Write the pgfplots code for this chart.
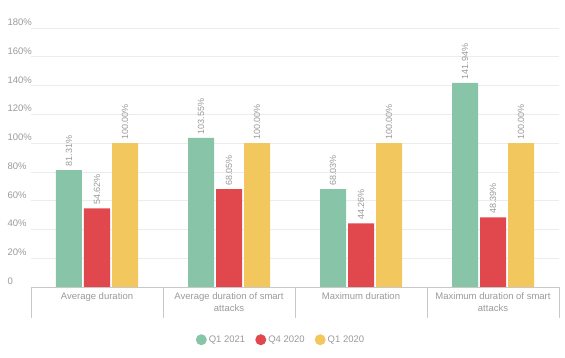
\documentclass[border=0pt]{standalone}
\usepackage{pgfplots}
\pgfplotsset{compat=1.18}
\usepackage{fontspec}
\setmainfont{Liberation Sans}
\definecolor{cgreen}{HTML}{88C4A7}
\definecolor{cred}{HTML}{E0484D}
\definecolor{cyellow}{HTML}{F2C75E}
\definecolor{ctext}{HTML}{9A9A9A}
\definecolor{cgrid}{HTML}{ECECEC}
\definecolor{caxis}{HTML}{C8C8C8}
\begin{document}
\begin{tikzpicture}[x=1pt,y=1pt]
\useasboundingbox (-31,-71) rectangle (534,287);
\begin{axis}[
  at={(0,0)}, anchor=south west,
  scale only axis, width=528pt, height=259pt,
  xmin=-0.5, xmax=3.5, ymin=0, ymax=180,
  ybar, bar width=26pt,
  axis x line*=bottom, axis y line*=left,
  x axis line style={caxis, line width=0.8pt},
  y axis line style={draw=none},
  ytick={0,20,...,180},
  yticklabels={0,20\%,40\%,60\%,80\%,100\%,120\%,140\%,160\%,180\%},
  ytick style={draw=none},
  ymajorgrids, grid style={cgrid, line width=0.6pt},
  yticklabel style={anchor=base west, xshift=-27pt, yshift=2.5pt, font=\fontsize{9.5}{11}\selectfont, text=ctext},
  /pgf/number format/assume math mode=true,
  xtick={-0.5,0.5,1.5,2.5,3.5},
  xticklabels={},
  major tick length=31pt,
  x tick style={draw=caxis, line width=0.6pt},
  xtick align=outside,
  extra x ticks={0,1,2,3},
  extra x tick labels={Average duration, {Average duration of smart\\attacks}, Maximum duration, {Maximum duration of smart\\attacks}},
  extra x tick style={major tick length=0pt, grid=none, tick style={draw=none},
    xticklabel style={align=center, anchor=north, yshift=-2pt, font=\fontsize{9.5}{12}\selectfont, text=ctext}},
  nodes near coords={\pgfmathprintnumber[fixed,precision=2,fixed zerofill]{\pgfplotspointmeta}\%},
  nodes near coords style={rotate=90, anchor=west, xshift=0pt, font=\fontsize{9}{10}\selectfont, text=ctext},
  point meta=y,
  legend style={at={(0.5,-71pt)}, anchor=south, yshift=10pt, xshift=-14pt, draw=none, fill=none, legend columns=3, font=\fontsize{9.5}{11}\selectfont, text=ctext, /tikz/every even column/.append style={column sep=8pt}},
  legend image code/.code={\fill[#1] (0.2cm,0cm) circle (5.5pt);},
  clip=false,
]
\addplot[fill=cgreen, draw=none, bar shift=-28pt] coordinates {(0,81.31) (1,103.55) (2,68.03) (3,141.94)};
\addplot[fill=cred, draw=none, bar shift=0pt] coordinates {(0,54.62) (1,68.05) (2,44.26) (3,48.39)};
\addplot[fill=cyellow, draw=none, bar shift=28pt] coordinates {(0,100) (1,100) (2,100) (3,100)};
\legend{Q1 2021, Q4 2020, Q1 2020}
\end{axis}
\end{tikzpicture}
\end{document}
